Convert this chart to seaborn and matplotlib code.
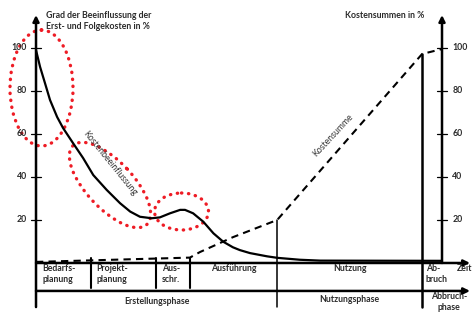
import numpy as np
import pandas as pd
import matplotlib.pyplot as plt
import seaborn as sns
from matplotlib.patches import Ellipse
from matplotlib.transforms import Affine2D

# curve of cost influence (Kostenbeeinflussung), time 0..100, value in %
infl_t = [0, 1.0, 2.2, 3.45, 5.2, 6.65, 9.1, 11.6, 14.1, 17.4, 20.7, 23.2, 25.6, 28.5,
          30.5, 33.0, 35.5, 36.7, 38.7, 41.2, 43.7, 46.1, 48.5, 50.2, 52.7, 56.9,
          59.4, 65.0, 70.0, 100]
infl_v = [99, 91.2, 83.7, 75.8, 67.9, 62.8, 55.8, 48.8, 40.9, 34, 27.8, 23.9, 21.5, 20.8,
          21.2, 23.1, 24.7, 24.7, 23.1, 19.2, 13.8, 9.9, 7.3, 6.0, 4.6, 3.1,
          2.4, 1.5, 1.1, 1.0]

# cumulative costs (Kostensumme)
sum_t = [0, 37.9, 40.4, 48.5, 59.4, 95.1, 100]
sum_v = [0.5, 2.5, 5.1, 12, 20, 97.2, 99.5]

ticks = [20, 40, 60, 80, 100]

# phase boundaries on the time axis
row_bounds = [13.5, 29.6, 37.9]
use_start = 59.4
demo_start = 95.1

row_labels = ["Bedarfs-\nplanung", "Projekt-\nplanung", "Aus-\nschr."]
row_label_x = [1.5, 14.8, 31.0]
phases = ["Erstellungsphase", "Nutzungsphase"]

sns.set_style("white")
plt.rcParams['font.family'] = ['Lato', 'DejaVu Sans']

fig = plt.figure(figsize=(4.74, 3.13), dpi=100)
ax = fig.add_axes([0, 0, 1, 1])
ax.set_xlim(-8.87, 107.88)
ax.set_ylim(-23.26, 122.3)
ax.axis("off")

tc = "#2b2b2b"
fs = 6.3

sns.lineplot(x=infl_t, y=infl_v, ax=ax, color="black", lw=1.6)
sns.lineplot(x=sum_t, y=sum_v, ax=ax, color="black", lw=1.5, linestyle=(0, (3.5, 2.5)))

arrow = dict(arrowstyle="-|>", lw=1.8, color="black", mutation_scale=9, shrinkA=0, shrinkB=0)
# left axis, right axis, time axis, phase axis
ax.annotate("", xy=(0, 115.3), xytext=(0, -20.5), arrowprops=arrow)
ax.annotate("", xy=(100, 115.3), xytext=(100, 0), arrowprops=arrow)
ax.annotate("", xy=(106.9, 0), xytext=(0, 0), arrowprops=arrow)
ax.annotate("", xy=(106.9, -13), xytext=(0, -13), arrowprops=arrow)

for t in ticks:
    ax.plot([-1.2, 1.2], [t, t], color="black", lw=0.9)
    ax.plot([98.8, 101.2], [t, t], color="black", lw=0.9)
    ax.text(-2.2, t, str(t), ha="right", va="center", fontsize=fs, color=tc, fontweight="bold")
    ax.text(102.5, t, str(t), ha="left", va="center", fontsize=fs, color=tc, fontweight="bold")

for b in row_bounds:
    ax.plot([b, b], [2.3, -11.5], color="black", lw=1.5)
ax.plot([use_start, use_start], [20, -20.5], color="black", lw=1.1)
ax.plot([demo_start, demo_start], [97.2, -20.5], color="black", lw=1.8)

for lab, x in zip(row_labels, row_label_x):
    ax.text(x, -5.1, lab, ha="left", va="center", fontsize=fs, color=tc,
            fontweight="bold", linespacing=1.25)
ax.text((row_bounds[2] + use_start) / 2, -2.6, "Ausführung", ha="center", va="center",
        fontsize=fs, color=tc, fontweight="bold")
ax.text((use_start + demo_start) / 2, -2.6, "Nutzung", ha="center", va="center",
        fontsize=fs, color=tc, fontweight="bold")
ax.text(96.0, -5.1, "Ab-\nbruch", ha="left", va="center", fontsize=fs, color=tc,
        fontweight="bold", linespacing=1.25)
ax.text(103.6, -2.4, "Zeit", ha="left", va="center", fontsize=fs, color=tc, fontweight="bold")

ax.text(use_start / 2, -17.8, phases[0], ha="center", va="center", fontsize=fs, color=tc, fontweight="bold")
ax.text((use_start + demo_start) / 2, -16.8, phases[1], ha="center", va="center",
        fontsize=fs, color=tc, fontweight="bold")
ax.text(101.8, -18.3, "Abbruch-\nphase", ha="center", va="center", fontsize=fs, color=tc,
        fontweight="bold", linespacing=1.25)

ax.text(2.4, 112.6, "Grad der Beeinflussung der\nErst- und Folgekosten in %", ha="left", va="center",
        fontsize=fs, color=tc, fontweight="bold", linespacing=1.2)
ax.text(95.6, 114.9, "Kostensummen in %", ha="right", va="center", fontsize=fs, color=tc, fontweight="bold")

ax.text(18.2, 46.5, "Kostenbeeinflussung", rotation=-51, ha="center", va="center",
        rotation_mode="anchor", fontsize=fs, color="#333333")
ax.text(73.2, 59.5, "Kostensumme", rotation=47, ha="center", va="center",
        rotation_mode="anchor", fontsize=fs, color="#333333")

# red dotted highlight ellipses, placed in figure pixels (y down)
px = Affine2D().scale(1 / 474, -1 / 313).translate(0, 1) + fig.transFigure
for (cx, cy, w, h, ang) in [(41.5, 88, 63, 116, 0), (110, 185, 108, 47, 47), (181.5, 211.5, 54, 37, 0)]:
    e = Ellipse((cx, cy), w, h, angle=ang, transform=px, fill=False, edgecolor="#ee1c25",
                lw=2.4, linestyle=(0, (0.1, 2.0)))
    e.set_capstyle("round")
    ax.add_patch(e)

fig.savefig("out.png", dpi=100)
